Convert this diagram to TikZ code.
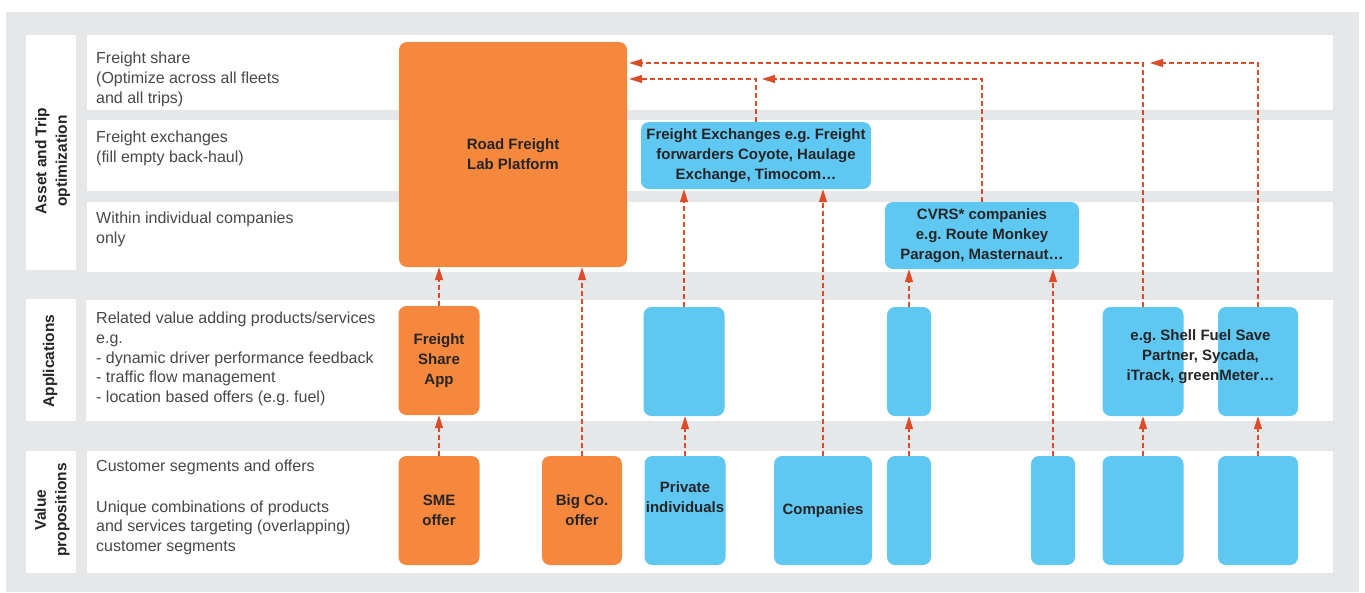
\documentclass[tikz,border=0pt]{standalone}
\usepackage{fontspec}
\setmainfont{Liberation Sans}
\usetikzlibrary{arrows.meta}
\frenchspacing

\definecolor{bggray}{RGB}{230,231,232}
\definecolor{rflorange}{RGB}{245,136,61}
\definecolor{rflblue}{RGB}{95,200,242}
\definecolor{flowred}{RGB}{220,76,40}
\definecolor{inkdark}{RGB}{38,36,38}
\definecolor{inkgray}{RGB}{72,72,72}

\begin{document}
\begin{tikzpicture}[x=1pt, y=-1pt,
  rowtext/.style={anchor=north west, inner sep=0pt, align=left, text=inkgray,
    font=\fontsize{16}{19.7}\selectfont},
  sidelabel/.style={rotate=90, inner sep=0pt, align=center, text=inkdark,
    font=\fontsize{15.5}{20.5}\selectfont\bfseries},
  boxtext/.style={inner sep=0pt, align=center, text=inkdark,
    font=\fontsize{15}{20}\selectfont\bfseries},
  obox/.style={boxtext, fill=rflorange, rounded corners=8pt},
  bbox/.style={boxtext, fill=rflblue, rounded corners=8pt},
  appbox/.style={minimum height=109pt},
  flow/.style={draw=flowred, line width=1.3pt, dash pattern=on 5pt off 3pt,
    -{Triangle[length=13pt,width=8pt]}},
]

  %% ════ background and row strips ════
  \fill[bggray] (6,12) rectangle (1359,592);
  \fill[white] (26,35) rectangle (76,270);
  \fill[white] (26,299) rectangle (76,421);
  \fill[white] (26,451) rectangle (76,573);
  \fill[white] (87,35) rectangle (1333,110);
  \fill[white] (87,120) rectangle (1333,191);
  \fill[white] (87,202) rectangle (1333,272);
  \fill[white] (86,300) rectangle (1333,421);
  \fill[white] (87,451) rectangle (1333,573);

  %% ════ side labels ════
  \node[sidelabel] (asset) at (52.5,161) {Asset and Trip\\optimization};
  \node[sidelabel] (appl) at (50,361) {Applications};
  \node[sidelabel] (valprop) at (52,510) {Value\\propositions};

  %% ════ row descriptions ════
  \node[rowtext] (fshare) at (96,52) {Freight share\\(Optimize across all fleets\\and all trips)};
  \node[rowtext] (fexch) at (96,131) {Freight exchanges\\(fill empty back-haul)};
  \node[rowtext] (within) at (96,212) {Within individual companies\\only};
  \node[rowtext] (related) at (96,312) {Related value adding products/services\\e.g.\\- dynamic driver performance feedback\\- traffic flow management\\- location based offers (e.g. fuel)};
  \node[rowtext] (custseg) at (96,460) {Customer segments and offers\\[20.5pt]Unique combinations of products\\and services targeting (overlapping)\\customer segments};

  %% ════ asset and trip optimization ════
  \node[obox, minimum width=228pt, minimum height=225pt] (rfl) at (513,154.5) {Road Freight\\Lab Platform};
  \node[bbox, minimum width=230pt, minimum height=67pt] (fex) at (756,155.5) {Freight Exchanges e.g. Freight\\forwarders Coyote, Haulage\\Exchange, Timocom…};
  \node[bbox, minimum width=194pt, minimum height=67pt] (cvrs) at (982,235.5) {CVRS* companies\\e.g. Route Monkey\\Paragon, Masternaut…};

  %% ════ applications ════
  \node[obox, appbox, minimum width=81pt] (fsa) at (439,360.5) {Freight\\Share\\App};
  \node[bbox, appbox, minimum width=81pt] (appp) at (684,361.5) {};
  \node[bbox, appbox, minimum width=44pt] (appc) at (909,361.5) {};
  \node[bbox, appbox, minimum width=81pt] (apps) at (1143,361.5) {};
  \node[bbox, appbox, minimum width=80pt] (appg) at (1258,361.5) {};
  \node[boxtext] (shelltxt) at (1200.5,357) {e.g. Shell Fuel Save\\Partner, Sycada,\\iTrack, greenMeter…};

  %% ════ value propositions ════
  \node[obox, appbox, minimum width=81pt] (sme) at (439,510.5) {SME\\offer};
  \node[obox, appbox, minimum width=80pt] (bigco) at (582,510.5) {Big Co.\\offer};
  \node[bbox, appbox, minimum width=81pt] (priv) at (685,510.5) {};
  \node[boxtext] (privtxt) at (685,497.5) {Private\\individuals};
  \node[bbox, appbox, minimum width=98pt] (comp) at (823,510.5) {Companies};
  \node[bbox, appbox, minimum width=44pt] (vpc) at (909,510.5) {};
  \node[bbox, appbox, minimum width=44pt] (vpm) at (1053,510.5) {};
  \node[bbox, appbox, minimum width=81pt] (vps) at (1143,510.5) {};
  \node[bbox, appbox, minimum width=80pt] (vpg) at (1258,510.5) {};

  %% ════ flows ════
  \draw[flow] (sme.north) -- (sme.north |- fsa.south);
  \draw[flow] (fsa.north) -- (fsa.north |- rfl.south);
  \draw[flow] (bigco.north) -- (bigco.north |- rfl.south);
  \draw[flow] (priv.north) -- (priv.north |- appp.south);
  \draw[flow] (appp.north) -- (appp.north |- fex.south);
  \draw[flow] (comp.north) -- (comp.north |- fex.south);
  \draw[flow] (vpc.north) -- (appc.south);
  \draw[flow] (appc.north) -- (appc.north |- cvrs.south);
  \draw[flow] (vpm.north) -- (vpm.north |- cvrs.south);
  \draw[flow] (vps.north) -- (apps.south);
  \draw[flow] (vpg.north) -- (appg.south);

  % top lanes into the platform
  \coordinate (laneA) at (0,63);
  \coordinate (laneB) at (0,79);
  \draw[flow] (apps.north) |- ([xshift=2pt]laneA -| rfl.east);
  \draw[flow] (appg.north) |- ([xshift=7pt]apps.north |- laneA);
  \draw[flow] (fex.north) |- ([xshift=2pt]laneB -| rfl.east);
  \draw[flow] (cvrs.north) |- ([xshift=6pt]fex.north |- laneB);

  \pgfresetboundingbox
  \path[use as bounding box] (0,0) rectangle (1365,592);
\end{tikzpicture}
\end{document}
